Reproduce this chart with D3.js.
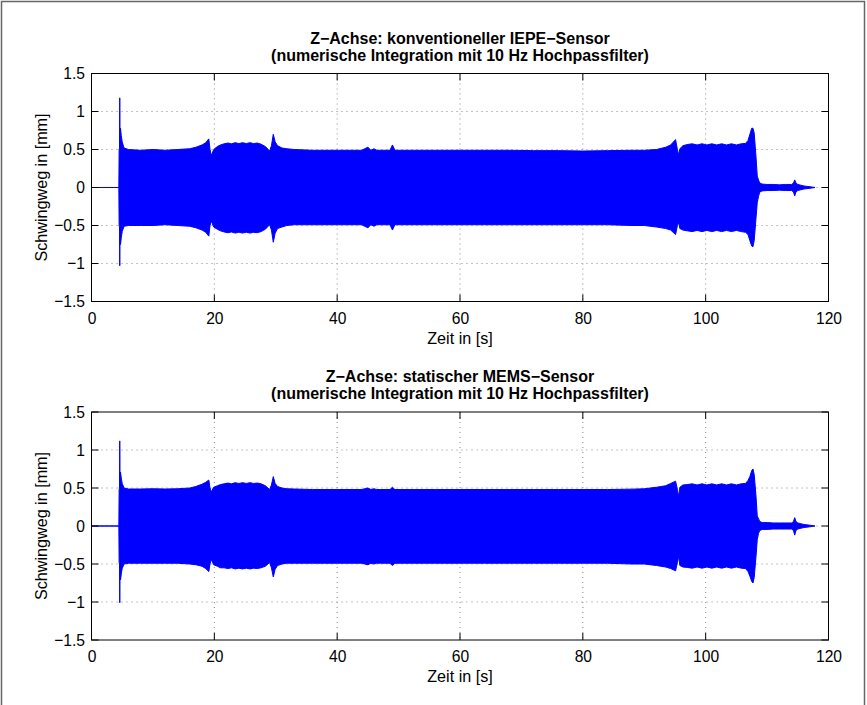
<!DOCTYPE html>
<html lang="de">
  <head>
    <meta charset="UTF-8" />
    <title>Schwingweg Z-Achse</title>
    <style>
      body { margin: 0; background: #fff; }
      svg { display: block; font-family: "Liberation Sans", Arial, sans-serif; }
    </style>
  </head>
  <body>
    <div id="chart"></div>
    <script src="https://cdn.jsdelivr.net/npm/d3@7"></script>
    <script>
      // Zeitpunkte [s] der Hüllkurve (oben/unten) des Schwingwegs
      const zeit = [
        0, 4.45, 4.5, 4.56, 4.6, 4.64, 4.72, 4.85, 5.0, 5.3, 6,
        8, 10, 12, 14, 16, 17, 18, 18.6, 19.1, 19.3, 19.5,
        19.9, 20.5, 21, 21.6, 22.2, 22.8, 23.4, 24, 24.6, 25.2, 25.8, 26.4, 27, 27.6, 28.3,
        29.0, 29.3, 29.6, 29.9, 30.3, 31, 31.8, 33,
        36, 40, 44, 45, 45.5, 46, 46.4, 47, 48.6, 49, 49.4, 52, 56, 60, 64, 68, 72, 76, 80, 84, 88, 90,
        92, 93.5, 94.3, 95.1, 95.4, 95.6, 95.8, 96.3,
        97, 97.8, 98.6, 99.4, 100.2, 101, 101.8, 102.6, 103.4, 104.2, 105, 105.8, 106.5,
        106.9, 107.2, 107.5, 107.7, 107.9, 108.2, 108.4, 108.6, 108.8, 109.2,
        110, 111, 112, 113, 114, 114.3, 114.5, 114.7, 115, 115.5, 116, 117, 117.8
      ];

      // IEPE-Sensor
      const iepeOben = [
        0, 0, 0.5, 0.52, 1.18, 0.62, 0.78, 0.68, 0.6, 0.52, 0.5,
        0.49, 0.5, 0.49, 0.5, 0.51, 0.53, 0.56, 0.59, 0.64, 0.5, 0.42,
        0.5, 0.54, 0.56, 0.575, 0.585, 0.575, 0.59, 0.578, 0.59, 0.578, 0.59, 0.578, 0.585, 0.57, 0.54,
        0.48, 0.55, 0.7, 0.6, 0.55, 0.52, 0.51, 0.5,
        0.49, 0.49, 0.49, 0.53, 0.49, 0.51, 0.49, 0.49, 0.49, 0.56, 0.49, 0.49, 0.49, 0.49, 0.49, 0.49, 0.485, 0.485, 0.48, 0.485, 0.49, 0.49,
        0.5, 0.53, 0.56, 0.63, 0.5, 0.43, 0.51, 0.55,
        0.565, 0.575, 0.56, 0.575, 0.56, 0.575, 0.56, 0.575, 0.56, 0.575, 0.56, 0.575, 0.58,
        0.62, 0.7, 0.78, 0.78, 0.72, 0.4, 0.15, 0.1, 0.06, 0.045,
        0.04, 0.04, 0.035, 0.04, 0.04, 0.06, 0.1, 0.06, 0.04, 0.03, 0.02, 0.01, 0
      ];
      const iepeUnten = [
        0, 0, -0.5, -0.52, -1.03, -0.62, -0.75, -0.66, -0.58, -0.51, -0.5,
        -0.5, -0.5, -0.49, -0.5, -0.51, -0.53, -0.56, -0.59, -0.64, -0.5, -0.44,
        -0.52, -0.55, -0.57, -0.585, -0.595, -0.585, -0.6, -0.588, -0.6, -0.588, -0.6, -0.59, -0.595, -0.58, -0.55,
        -0.49, -0.56, -0.72, -0.6, -0.54, -0.52, -0.5, -0.49,
        -0.49, -0.49, -0.49, -0.53, -0.49, -0.51, -0.49, -0.49, -0.49, -0.56, -0.49, -0.49, -0.49, -0.49, -0.49, -0.49, -0.49, -0.49, -0.49, -0.49, -0.5, -0.5,
        -0.52, -0.54, -0.56, -0.62, -0.5, -0.46, -0.54, -0.56,
        -0.57, -0.58, -0.565, -0.58, -0.565, -0.58, -0.565, -0.58, -0.565, -0.58, -0.565, -0.58, -0.59,
        -0.62, -0.7, -0.77, -0.78, -0.7, -0.4, -0.2, -0.12, -0.06, -0.045,
        -0.04, -0.04, -0.035, -0.04, -0.04, -0.06, -0.11, -0.06, -0.04, -0.03, -0.02, -0.01, 0
      ];

      // MEMS-Sensor
      const memsOben = [
        0, 0, 0.48, 0.5, 1.12, 0.6, 0.71, 0.63, 0.56, 0.5, 0.487,
        0.487, 0.49, 0.487, 0.49, 0.5, 0.52, 0.55, 0.575, 0.605, 0.5, 0.45,
        0.51, 0.53, 0.545, 0.555, 0.565, 0.555, 0.57, 0.56, 0.57, 0.56, 0.57, 0.56, 0.565, 0.555, 0.53,
        0.48, 0.54, 0.65, 0.56, 0.52, 0.5, 0.49, 0.487,
        0.48, 0.48, 0.48, 0.5, 0.48, 0.49, 0.48, 0.48, 0.48, 0.51, 0.48, 0.48, 0.48, 0.48, 0.48, 0.48, 0.48, 0.48, 0.48, 0.48, 0.485, 0.49,
        0.51, 0.53, 0.56, 0.59, 0.48, 0.39, 0.51, 0.54,
        0.545, 0.555, 0.54, 0.555, 0.54, 0.555, 0.54, 0.555, 0.54, 0.555, 0.54, 0.555, 0.56,
        0.6, 0.65, 0.73, 0.75, 0.68, 0.39, 0.13, 0.1, 0.06, 0.045,
        0.045, 0.04, 0.04, 0.04, 0.04, 0.06, 0.11, 0.06, 0.04, 0.03, 0.02, 0.01, 0
      ];
      const memsUnten = [
        0, 0, -0.48, -0.5, -1.01, -0.6, -0.71, -0.63, -0.56, -0.5, -0.49,
        -0.49, -0.49, -0.49, -0.49, -0.5, -0.51, -0.53, -0.56, -0.6, -0.5, -0.44,
        -0.51, -0.53, -0.55, -0.55, -0.56, -0.55, -0.565, -0.555, -0.565, -0.555, -0.565, -0.555, -0.56, -0.55, -0.53,
        -0.48, -0.55, -0.67, -0.57, -0.52, -0.5, -0.49, -0.49,
        -0.49, -0.49, -0.49, -0.51, -0.49, -0.5, -0.49, -0.49, -0.49, -0.52, -0.49, -0.49, -0.49, -0.49, -0.49, -0.49, -0.49, -0.49, -0.49, -0.49, -0.5, -0.5,
        -0.52, -0.54, -0.56, -0.59, -0.48, -0.4, -0.52, -0.54,
        -0.545, -0.555, -0.54, -0.555, -0.54, -0.555, -0.54, -0.555, -0.54, -0.555, -0.54, -0.555, -0.56,
        -0.6, -0.66, -0.73, -0.75, -0.68, -0.4, -0.18, -0.1, -0.06, -0.045,
        -0.045, -0.04, -0.04, -0.04, -0.04, -0.06, -0.12, -0.06, -0.04, -0.03, -0.02, -0.01, 0
      ];

      const xTicks = [0, 20, 40, 60, 80, 100, 120];
      const yTicks = [-1.5, -1, -0.5, 0, 0.5, 1, 1.5];

      const titel1 = ["Z\u2212Achse: konventioneller IEPE\u2212Sensor", "(numerische Integration mit 10 Hz Hochpassfilter)"];
      const titel2 = ["Z\u2212Achse: statischer MEMS\u2212Sensor", "(numerische Integration mit 10 Hz Hochpassfilter)"];

      [iepeOben, iepeUnten, memsOben, memsUnten].forEach((a) => {
        if (a.length !== zeit.length) console.error("Länge passt nicht", a.length, zeit.length);
      });

      const width = 867;
      const height = 705;

      const svg = d3
        .select("#chart")
        .append("svg")
        .attr("width", width)
        .attr("height", height);

      svg.append("rect").attr("width", width).attr("height", height).attr("fill", "#fff");

      // Rahmen um die Abbildung
      svg
        .append("rect")
        .attr("x", 1.5)
        .attr("y", 1.5)
        .attr("width", 863)
        .attr("height", 710)
        .attr("fill", "none")
        .attr("stroke", "#666")
        .attr("stroke-width", 1.5);

      const minus = (v) => String(v).replace("-", "\u2212");

      function drawPlot(top, bottom, titel, oben, unten) {
        const left = 91.5;
        const right = 828.5;

        const x = d3.scaleLinear().domain([0, 120]).range([left, right]);
        const y = d3.scaleLinear().domain([-1.5, 1.5]).range([bottom, top]);

        const g = svg.append("g");

        // Gitter
        g.selectAll(".gx")
          .data(xTicks.slice(1, -1))
          .join("line")
          .attr("x1", (d) => x(d))
          .attr("x2", (d) => x(d))
          .attr("y1", top)
          .attr("y2", bottom)
          .attr("stroke", "#888")
          .attr("stroke-width", 1)
          .attr("stroke-dasharray", "1,4");
        g.selectAll(".gy")
          .data(yTicks.slice(1, -1))
          .join("line")
          .attr("x1", left)
          .attr("x2", right)
          .attr("y1", (d) => y(d))
          .attr("y2", (d) => y(d))
          .attr("stroke", "#888")
          .attr("stroke-width", 1)
          .attr("stroke-dasharray", "1,4");

        // Signal als Hüllkurve
        const area = d3
          .area()
          .x((d, i) => x(zeit[i]))
          .y0((d, i) => y(unten[i]))
          .y1((d, i) => y(oben[i]));

        g.append("path")
          .attr("d", area(zeit))
          .attr("fill", "#0000ff")
          .attr("stroke", "#0000ff")
          .attr("stroke-width", 1)
          .attr("stroke-linejoin", "round");

        // Achsen (MATLAB-Stil: Ticks nach innen, auf allen Seiten)
        const tl = 7;
        const axB = d3.axisBottom(x).tickValues(xTicks).tickSize(0).tickPadding(10).tickFormat((d) => d);
        const axL = d3.axisLeft(y).tickValues(yTicks).tickSize(0).tickPadding(7).tickFormat(minus);

        g.append("g")
          .attr("transform", `translate(0,${bottom})`)
          .call(axB)
          .call((s) => s.select(".domain").remove())
          .selectAll("text")
          .attr("font-size", 17)
          .attr("fill", "#000")
          .attr("transform", "scale(0.92,1)")
          .attr("font-family", "Liberation Sans, Arial, sans-serif");
        g.append("g")
          .attr("transform", `translate(${left},0)`)
          .call(axL)
          .call((s) => s.select(".domain").remove())
          .selectAll("text")
          .attr("font-size", 17)
          .attr("fill", "#000")
          .attr("transform", "scale(0.92,1)")
          .attr("font-family", "Liberation Sans, Arial, sans-serif");

        // Tick-Striche innen
        xTicks.forEach((t) => {
          g.append("line").attr("x1", x(t)).attr("x2", x(t)).attr("y1", bottom).attr("y2", bottom - tl).attr("stroke", "#000");
          g.append("line").attr("x1", x(t)).attr("x2", x(t)).attr("y1", top).attr("y2", top + tl).attr("stroke", "#000");
        });
        yTicks.forEach((t) => {
          g.append("line").attr("x1", left).attr("x2", left + tl).attr("y1", y(t)).attr("y2", y(t)).attr("stroke", "#000");
          g.append("line").attr("x1", right).attr("x2", right - tl).attr("y1", y(t)).attr("y2", y(t)).attr("stroke", "#000");
        });

        g.append("rect")
          .attr("x", left)
          .attr("y", top)
          .attr("width", right - left)
          .attr("height", bottom - top)
          .attr("fill", "none")
          .attr("stroke", "#000")
          .attr("stroke-width", 1);

        // Beschriftung
        const cx = (left + right) / 2;
        g.append("text")
          .attr("transform", `translate(${cx},${bottom + 42}) scale(0.95,1)`)
          .attr("text-anchor", "middle")
          .attr("font-size", 17)
          .text("Zeit in [s]");

        g.append("text")
          .attr("transform", `translate(41,${(top + bottom) / 2}) rotate(-90) scale(0.95,1)`)
          .attr("text-anchor", "middle")
          .attr("dy", "0.35em")
          .attr("font-size", 17)
          .text("Schwingweg in [mm]");

        g.selectAll(".titel")
          .data(titel)
          .join("text")
          .attr("x", cx)
          .attr("y", (d, i) => top - 30 + i * 17)
          .attr("text-anchor", "middle")
          .attr("font-size", 16)
          .attr("font-weight", "bold")
          .text((d) => d);
      }

      drawPlot(73.5, 301.5, titel1, iepeOben, iepeUnten);
      drawPlot(412, 640, titel2, memsOben, memsUnten);
    </script>
  </body>
</html>
